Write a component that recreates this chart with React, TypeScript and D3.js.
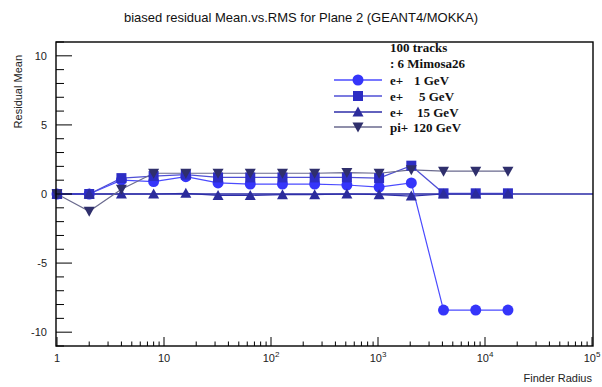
import * as d3 from "d3"

// finder radius values (2^k)
const radius = [1, 2, 4, 8, 16, 32, 64, 128, 256, 512, 1024, 2048, 4096, 8192, 16384]

const e1GeV = [0, 0, 1.0, 0.9, 1.25, 0.8, 0.72, 0.72, 0.72, 0.65, 0.5, 0.8, -8.4, -8.4, -8.4]
const e5GeV = [0, 0, 1.15, 1.3, 1.4, 1.2, 1.2, 1.2, 1.2, 1.2, 1.15, 2.05, 0.05, 0.05, 0.05]
const e15GeV = [0, 0, 0, 0, 0.05, -0.1, -0.1, -0.05, -0.05, 0, -0.05, -0.15, 0, 0, 0]
const pi120GeV = [0, -1.25, 0.35, 1.5, 1.5, 1.5, 1.5, 1.5, 1.5, 1.55, 1.5, 1.75, 1.65, 1.65, 1.65]

const xTickLabels = ["1", "10", "10|2", "10|3", "10|4", "10|5"]
const yTicks = [-10, -5, 0, 5, 10]

const series = [
  { name: "e+", energy: "1 GeV", values: e1GeV, marker: "circle", fill: "#3535fa", line: "#4b4bff" },
  { name: "e+", energy: "5 GeV", values: e5GeV, marker: "square", fill: "#2d2dc4", line: "#4f4fd6" },
  { name: "e+", energy: "15 GeV", values: e15GeV, marker: "up", fill: "#2c2c9c", line: "#2e2ea8" },
  { name: "pi+", energy: "120 GeV", values: pi120GeV, marker: "down", fill: "#2f2f6c", line: "#6a6a8e" },
]

const W = 602
const H = 387
const left = 56
const right = 593
const top = 42
const bottom = 346

function Marker({ type, x, y, fill }: { type: string; x: number; y: number; fill: string }) {
  if (type === "circle") return <circle cx={x} cy={y} r={5.5} fill={fill} />
  if (type === "square") return <rect x={x - 5} y={y - 5} width={10} height={10} fill={fill} />
  if (type === "up") return <path d={`M${x - 5.5},${y + 4.5}L${x + 5.5},${y + 4.5}L${x},${y - 5.5}Z`} fill={fill} />
  return <path d={`M${x - 5.5},${y - 4.5}L${x + 5.5},${y - 4.5}L${x},${y + 5.5}Z`} fill={fill} />
}

export default function App() {
  const x = d3.scaleLog().domain([1, 1e5]).range([left + 1, right - 1])
  const y = d3.scaleLinear().domain([-11, 11]).range([bottom, top])

  const line = d3
    .line<number>()
    .x((_, i) => x(radius[i]))
    .y((d) => y(d))

  // minor ticks on the log axis
  const xMinor: number[] = []
  for (let p = 0; p < 5; p++) for (let m = 2; m <= 9; m++) xMinor.push(m * Math.pow(10, p))
  const yMinor = d3.range(-11, 12).filter((v) => v % 5 !== 0)

  const legendRows = [80, 96, 112, 127]

  return (
    <svg
      width={W}
      height={H}
      style={{ position: "absolute", left: 0, top: 0, background: "#fff" }}
      fontFamily="'Liberation Sans', Arial, sans-serif"
    >
      <text x={301} y={22} textAnchor="middle" fontSize={13} fill="#111">
        biased residual Mean.vs.RMS for Plane 2 (GEANT4/MOKKA)
      </text>

      {/* zero line */}
      <line x1={left} x2={right} y1={y(0)} y2={y(0)} stroke="#2a2aa6" strokeWidth={1.6} />

      {series.map((s, si) => (
        <path key={"l" + si} d={line(s.values) ?? ""} fill="none" stroke={s.line} strokeWidth={1.2} />
      ))}
      {series.map((s, si) =>
        s.values.map((v, i) => <Marker key={si + "-" + i} type={s.marker} x={x(radius[i])} y={y(v)} fill={s.fill} />),
      )}

      {/* frame */}
      <rect x={left} y={top} width={right - left} height={bottom - top} fill="none" stroke="#000" strokeWidth={1.4} />

      {/* x axis ticks */}
      {[1, 10, 100, 1000, 10000, 100000].map((t) => (
        <line key={"xt" + t} x1={x(t)} x2={x(t)} y1={bottom} y2={bottom - 9} stroke="#000" />
      ))}
      {xMinor.map((t) => (
        <line key={"xm" + t} x1={x(t)} x2={x(t)} y1={bottom} y2={bottom - 4.5} stroke="#000" />
      ))}
      {xTickLabels.map((lab, i) => {
        const [base, exp] = lab.split("|")
        const px = x(Math.pow(10, i))
        return (
          <text key={"xl" + i} x={px} y={362} textAnchor="middle" fontSize={11} fill="#222">
            {base}
            {exp && (
              <tspan dy={-5} fontSize={8}>
                {exp}
              </tspan>
            )}
          </text>
        )
      })}
      <text x={right - 1} y={382} textAnchor="end" fontSize={11} fill="#222">
        Finder Radius
      </text>

      {/* y axis ticks */}
      {yTicks.map((t) => (
        <line key={"yt" + t} x1={left} x2={left + 16} y1={y(t)} y2={y(t)} stroke="#000" />
      ))}
      {yMinor.map((t) => (
        <line key={"ym" + t} x1={left} x2={left + 8} y1={y(t)} y2={y(t)} stroke="#000" />
      ))}
      {yTicks.map((t) => (
        <text key={"yl" + t} x={47} y={y(t) + 4} textAnchor="end" fontSize={11} fill="#222">
          {t}
        </text>
      ))}
      <text
        transform={`translate(22, ${top + 13}) rotate(-90)`}
        textAnchor="end"
        fontSize={11}
        fill="#222"
      >
        Residual Mean
      </text>

      {/* legend */}
      <g fontFamily="'Liberation Serif', 'Times New Roman', serif" fontWeight="bold" fontSize={13} fill="#111">
        <text x={390} y={52}>
          100 tracks
        </text>
        <text x={390} y={68}>
          : 6 Mimosa26
        </text>
        {series.map((s, i) => (
          <g key={"lg" + i}>
            <line x1={334} x2={382} y1={legendRows[i]} y2={legendRows[i]} stroke={s.line} strokeWidth={1.4} />
            <Marker type={s.marker} x={358} y={legendRows[i]} fill={s.fill} />
            <text x={390} y={legendRows[i] + 4.5}>
              {s.name}
            </text>
            <text x={s.name === "pi+" ? 413 : i === 0 ? 414 : i === 1 ? 419 : 417} y={legendRows[i] + 4.5}>
              {s.energy}
            </text>
          </g>
        ))}
      </g>
    </svg>
  )
}
